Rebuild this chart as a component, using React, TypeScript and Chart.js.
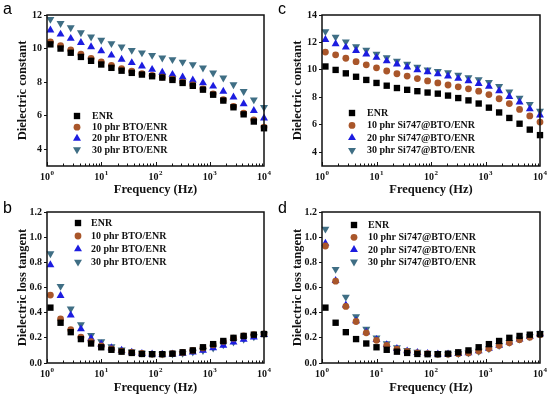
import React, { useEffect, useRef } from 'react';
import { Chart, registerables } from 'chart.js';

Chart.register(...registerables);

// ---------- data ----------
const frequencies = [1.155, 1.778, 2.738, 4.217, 6.494, 10, 15.4, 23.71, 36.52, 56.23, 86.6, 133.4, 205.4, 316.2, 487.0, 749.9, 1155, 1778, 2738, 4217, 6494, 10000];

const xTicks = [1, 10, 100, 1000, 10000];
const xTickExps = ['0', '1', '2', '3', '4'];

const constTicks12 = [4, 6, 8, 10, 12];
const constTicks14 = [4, 6, 8, 10, 12, 14];
const lossTicks = [0, 0.2, 0.4, 0.6, 0.8, 1.0, 1.2];

const seriesLabelsBTO = ['ENR', '10 phr BTO/ENR', '20 phr BTO/ENR', '30 phr BTO/ENR'];
const seriesLabelsSi = ['ENR', '10 phr Si747@BTO/ENR', '20 phr Si747@BTO/ENR', '30 phr Si747@BTO/ENR'];

// dielectric constant
const enrConst = [10.25, 10.0, 9.75, 9.5, 9.27, 9.05, 8.85, 8.68, 8.55, 8.45, 8.35, 8.27, 8.13, 7.95, 7.78, 7.55, 7.25, 6.9, 6.5, 6.08, 5.65, 5.25];
const bto10Const = [10.4, 10.17, 9.92, 9.67, 9.42, 9.2, 9.0, 8.8, 8.65, 8.5, 8.4, 8.3, 8.18, 8.0, 7.83, 7.6, 7.3, 6.95, 6.55, 6.15, 5.75, 5.32];
const bto20Const = [11.1, 10.85, 10.6, 10.35, 10.1, 9.85, 9.6, 9.35, 9.15, 8.95, 8.75, 8.58, 8.45, 8.3, 8.12, 7.95, 7.75, 7.45, 7.1, 6.7, 6.3, 5.85];
const bto30Const = [11.75, 11.5, 11.25, 10.95, 10.7, 10.5, 10.3, 10.1, 9.9, 9.75, 9.6, 9.45, 9.35, 9.2, 9.05, 8.85, 8.55, 8.25, 7.85, 7.45, 6.95, 6.5];
const si10Const = [11.3, 11.1, 10.85, 10.6, 10.37, 10.15, 9.92, 9.72, 9.55, 9.37, 9.2, 9.05, 8.9, 8.77, 8.62, 8.45, 8.2, 7.9, 7.55, 7.12, 6.65, 6.2];
const si20Const = [12.2, 11.9, 11.65, 11.4, 11.15, 10.9, 10.65, 10.42, 10.2, 10.0, 9.85, 9.7, 9.55, 9.37, 9.2, 9.0, 8.8, 8.47, 8.05, 7.65, 7.15, 6.7];
const si30Const = [12.8, 12.4, 12.05, 11.7, 11.45, 11.15, 10.9, 10.65, 10.42, 10.2, 10.0, 9.9, 9.8, 9.62, 9.45, 9.3, 9.1, 8.8, 8.4, 7.95, 7.5, 7.0];

// dielectric loss tangent
const enrLoss = [0.44, 0.32, 0.245, 0.19, 0.155, 0.125, 0.105, 0.09, 0.08, 0.072, 0.07, 0.07, 0.074, 0.085, 0.1, 0.125, 0.15, 0.175, 0.2, 0.215, 0.225, 0.23];
const bto10Loss = [0.54, 0.35, 0.265, 0.205, 0.17, 0.135, 0.112, 0.095, 0.085, 0.076, 0.071, 0.07, 0.074, 0.084, 0.1, 0.12, 0.145, 0.172, 0.197, 0.215, 0.225, 0.232];
const bto20Loss = [0.78, 0.535, 0.38, 0.27, 0.195, 0.15, 0.12, 0.1, 0.085, 0.075, 0.07, 0.068, 0.07, 0.075, 0.085, 0.1, 0.12, 0.14, 0.165, 0.188, 0.205, 0.225];
const bto30Loss = [0.87, 0.61, 0.43, 0.305, 0.22, 0.17, 0.13, 0.105, 0.09, 0.08, 0.075, 0.072, 0.073, 0.078, 0.088, 0.1, 0.12, 0.145, 0.168, 0.19, 0.21, 0.23];
const si10Loss = [0.93, 0.65, 0.45, 0.33, 0.24, 0.18, 0.14, 0.11, 0.092, 0.08, 0.074, 0.07, 0.07, 0.074, 0.08, 0.095, 0.115, 0.14, 0.16, 0.185, 0.205, 0.225];
const si20Loss = [0.95, 0.655, 0.46, 0.335, 0.245, 0.185, 0.145, 0.115, 0.095, 0.082, 0.075, 0.07, 0.07, 0.074, 0.08, 0.095, 0.115, 0.14, 0.165, 0.19, 0.21, 0.23];
const si30Loss = [1.065, 0.745, 0.525, 0.37, 0.27, 0.2, 0.155, 0.122, 0.1, 0.087, 0.08, 0.075, 0.072, 0.075, 0.082, 0.095, 0.115, 0.14, 0.165, 0.19, 0.21, 0.235];

// ---------- styles ----------
const SERIF = '"Liberation Serif", "Times New Roman", serif';
const INK = '#111111';
const markerStyles = [
  { pointStyle: 'rect', radius: 4.5, rotation: 0, color: '#000000' },
  { pointStyle: 'circle', radius: 3.4, rotation: 0, color: '#a9562a' },
  { pointStyle: 'triangle', radius: 4.6, rotation: 0, color: '#1c1ce0' },
  { pointStyle: 'triangle', radius: 4.6, rotation: 180, color: '#3f6e84' },
];

function drawMarker(ctx: CanvasRenderingContext2D, style: string, rotationDeg: number, x: number, y: number, r: number, color: string) {
  ctx.fillStyle = color;
  ctx.beginPath();
  if (style === 'rect') {
    const s = r * Math.SQRT1_2;
    ctx.rect(x - s, y - s, 2 * s, 2 * s);
  } else if (style === 'circle') {
    ctx.arc(x, y, r, 0, Math.PI * 2);
  } else {
    let rad = (rotationDeg * Math.PI) / 180;
    ctx.moveTo(x + Math.sin(rad) * r, y - Math.cos(rad) * r);
    rad += (2 * Math.PI) / 3;
    ctx.lineTo(x + Math.sin(rad) * r, y - Math.cos(rad) * r);
    rad += (2 * Math.PI) / 3;
    ctx.lineTo(x + Math.sin(rad) * r, y - Math.cos(rad) * r);
    ctx.closePath();
  }
  ctx.fill();
}

const framePlugin = {
  id: 'frameTicks',
  afterDraw(chart: any) {
    const { ctx, chartArea: a, scales } = chart;
    const xs = scales.x;
    ctx.save();
    ctx.strokeStyle = INK;
    ctx.lineWidth = 1;
    // inward log ticks on bottom axis
    for (let d = 0; d < 4; d++) {
      for (let m = 1; m <= 9; m++) {
        const v = m * Math.pow(10, d);
        const px = Math.round(xs.getPixelForValue(v)) + 0.5;
        const len = m === 1 ? 4 : 2.5;
        ctx.beginPath();
        ctx.moveTo(px, a.bottom);
        ctx.lineTo(px, a.bottom - len);
        ctx.stroke();
      }
    }
    // frame
    ctx.lineWidth = 1.5;
    ctx.strokeRect(a.left, a.top, a.right - a.left, a.bottom - a.top);
    // x tick labels 10^n
    ctx.fillStyle = INK;
    ctx.textAlign = 'left';
    ctx.textBaseline = 'alphabetic';
    xTicks.forEach((v, i) => {
      const px = xs.getPixelForValue(v);
      ctx.font = `bold 10px ${SERIF}`;
      const w1 = ctx.measureText('10').width;
      ctx.font = `bold 7px ${SERIF}`;
      const w2 = ctx.measureText(xTickExps[i]).width;
      const start = px - (w1 + w2 + 0.5) / 2;
      const base = a.bottom + 13.5;
      ctx.font = `bold 10px ${SERIF}`;
      ctx.fillText('10', start, base);
      ctx.font = `bold 7px ${SERIF}`;
      ctx.fillText(xTickExps[i], start + w1 + 0.5, base - 4.5);
    });
    ctx.restore();
  },
};

const legendPlugin = {
  id: 'insideLegend',
  afterDraw(chart: any, _args: any, opts: any) {
    const { ctx, chartArea: a } = chart;
    ctx.save();
    chart.data.datasets.forEach((ds: any, i: number) => {
      const y = a.top + opts.y0 + i * opts.dy;
      drawMarker(ctx, ds.pointStyle, ds.pointRotation || 0, a.left + opts.mx, y, ds.pointRadius, ds.backgroundColor);
      ctx.font = `bold 10px ${SERIF}`;
      ctx.fillStyle = INK;
      ctx.textAlign = 'left';
      ctx.textBaseline = 'middle';
      ctx.fillText(ds.label, a.left + opts.tx, y + 0.5);
    });
    ctx.restore();
  },
};

type PanelSpec = {
  left: number; top: number; w: number; h: number;
  padTop: number; padRight: number; xAxisH: number; yAxisW: number; xTitlePad: number;
  yMin: number; yMax: number; yTicks: number[]; decimals: number; yTitle: string;
  labels: string[]; series: number[][];
  legend: { y0: number; dy: number; mx: number; tx: number };
};

const panels: PanelSpec[] = [
  {
    left: 0, top: 0, w: 275, h: 197, padTop: 15, padRight: 11, xAxisH: 31, yAxisW: 47, xTitlePad: 0,
    yMin: 3, yMax: 12, yTicks: constTicks12, decimals: 0, yTitle: 'Dielectric constant',
    labels: seriesLabelsBTO, series: [enrConst, bto10Const, bto20Const, bto30Const],
    legend: { y0: 101, dy: 11.2, mx: 30, tx: 45 },
  },
  {
    left: 0, top: 197, w: 275, h: 200, padTop: 15, padRight: 11, xAxisH: 34, yAxisW: 47, xTitlePad: 2,
    yMin: 0, yMax: 1.2, yTicks: lossTicks, decimals: 1, yTitle: 'Dielectric loss tangent',
    labels: seriesLabelsBTO, series: [enrLoss, bto10Loss, bto20Loss, bto30Loss],
    legend: { y0: 11, dy: 13, mx: 31, tx: 44 },
  },
  {
    left: 275, top: 0, w: 275, h: 197, padTop: 15, padRight: 10, xAxisH: 31, yAxisW: 47, xTitlePad: 0,
    yMin: 3, yMax: 14, yTicks: constTicks14, decimals: 0, yTitle: 'Dielectric constant',
    labels: seriesLabelsSi, series: [enrConst, si10Const, si20Const, si30Const],
    legend: { y0: 98, dy: 12.4, mx: 30, tx: 45 },
  },
  {
    left: 275, top: 197, w: 275, h: 200, padTop: 15, padRight: 10, xAxisH: 34, yAxisW: 47, xTitlePad: 2,
    yMin: 0, yMax: 1.2, yTicks: lossTicks, decimals: 1, yTitle: 'Dielectric loss tangent',
    labels: seriesLabelsSi, series: [enrLoss, si10Loss, si20Loss, si30Loss],
    legend: { y0: 13, dy: 12.3, mx: 32, tx: 46 },
  },
];

const panelLetters = [
  { text: 'a', left: 3, top: 1 },
  { text: 'b', left: 3, top: 200 },
  { text: 'c', left: 278, top: 1 },
  { text: 'd', left: 278, top: 200 },
];

function makeConfig(p: PanelSpec): any {
  return {
    type: 'scatter',
    data: {
      datasets: p.series.map((vals, i) => ({
        label: p.labels[i],
        data: frequencies.map((f, j) => ({ x: f, y: vals[j] })),
        pointStyle: markerStyles[i].pointStyle,
        pointRadius: markerStyles[i].radius,
        pointRotation: markerStyles[i].rotation,
        backgroundColor: markerStyles[i].color,
        borderColor: markerStyles[i].color,
        borderWidth: 0,
        pointBorderWidth: 0,
        showLine: false,
        clip: false,
      })),
    },
    options: {
      animation: false,
      responsive: false,
      maintainAspectRatio: false,
      events: [],
      layout: { padding: { top: p.padTop, right: p.padRight, left: 0, bottom: 0 } },
      plugins: {
        legend: { display: false },
        tooltip: { enabled: false },
        insideLegend: p.legend,
      },
      scales: {
        x: {
          type: 'logarithmic',
          min: 1,
          max: 10000,
          afterBuildTicks: (s: any) => { s.ticks = xTicks.map((v) => ({ value: v })); },
          ticks: { display: false },
          grid: { display: false },
          border: { display: false },
          title: {
            display: true,
            text: 'Frequency (Hz)',
            color: INK,
            font: { family: SERIF, size: 12.5, weight: 'bold' },
            padding: { top: 0, bottom: p.xTitlePad },
          },
          afterFit: (s: any) => { s.height = p.xAxisH; },
        },
        y: {
          type: 'linear',
          min: p.yMin,
          max: p.yMax,
          afterBuildTicks: (s: any) => { s.ticks = p.yTicks.map((v) => ({ value: v })); },
          ticks: {
            color: INK,
            padding: 2,
            font: { family: SERIF, size: 10, weight: 'bold' },
            callback: (v: any) => Number(v).toFixed(p.decimals),
          },
          grid: { display: true, drawOnChartArea: false, drawTicks: true, tickLength: 3, color: INK, lineWidth: 1 },
          border: { display: false },
          title: {
            display: true,
            text: p.yTitle,
            color: INK,
            font: { family: SERIF, size: 12.5, weight: 'bold' },
            padding: { top: 15, bottom: 0 },
          },
          afterFit: (s: any) => { s.width = p.yAxisW; },
        },
      },
    },
    plugins: [framePlugin, legendPlugin],
  };
}

function Panel({ spec }: { spec: PanelSpec }) {
  const ref = useRef<HTMLCanvasElement>(null);
  useEffect(() => {
    if (!ref.current) return;
    const chart = new Chart(ref.current, makeConfig(spec));
    return () => chart.destroy();
  }, [spec]);
  return (
    <canvas
      ref={ref}
      width={spec.w}
      height={spec.h}
      style={{ position: 'absolute', left: spec.left, top: spec.top, width: spec.w, height: spec.h }}
    />
  );
}

export default function App() {
  return (
    <div style={{ position: 'fixed', left: 0, top: 0, width: 550, height: 397, background: '#ffffff', overflow: 'hidden' }}>
      {panels.map((p, i) => (
        <Panel key={i} spec={p} />
      ))}
      {panelLetters.map((l) => (
        <div
          key={l.text}
          style={{
            position: 'absolute', left: l.left, top: l.top, fontFamily: '"Liberation Sans", Arial, sans-serif',
            fontSize: 16, lineHeight: '16px', color: '#000',
          }}
        >
          {l.text}
        </div>
      ))}
    </div>
  );
}
